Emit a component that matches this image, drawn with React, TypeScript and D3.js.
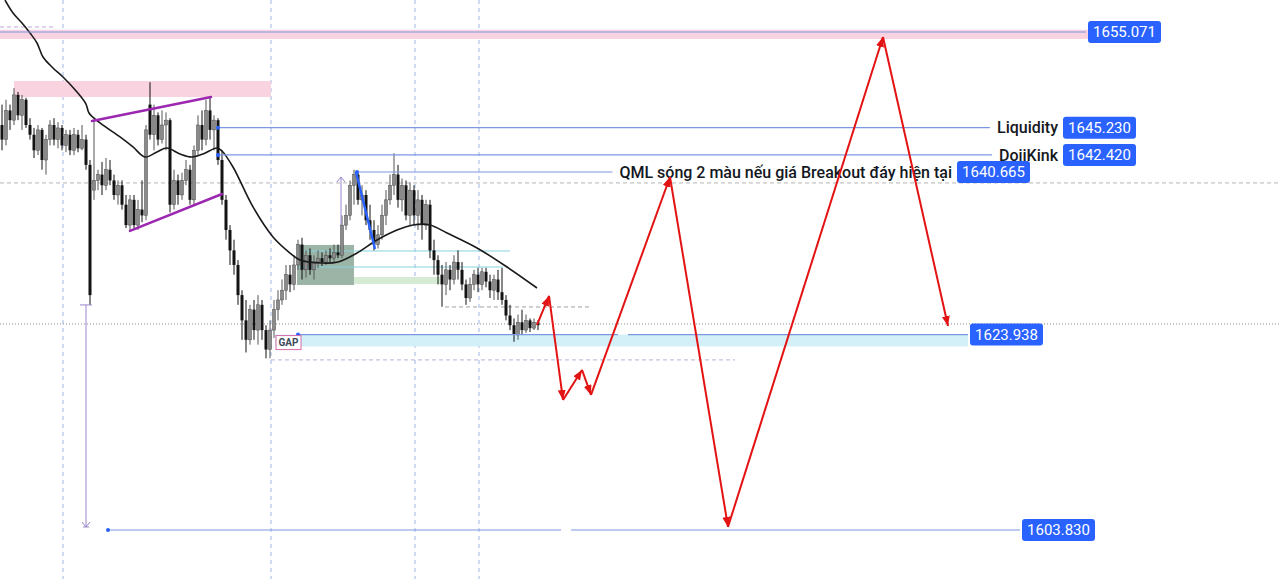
import React, { useEffect, useRef } from 'react';
import * as d3 from 'd3';

// candles: [open, high, low, close]
const candles: [number, number, number, number][] = [
  [1645.5, 1647.6, 1642.9, 1644.0], [1644.0, 1648.1, 1643.4, 1647.0], [1647.0, 1647.6, 1645.0, 1646.0],
  [1646.0, 1649.3, 1645.5, 1648.6], [1648.6, 1648.9, 1646.0, 1646.5], [1646.5, 1648.6, 1645.0, 1648.1],
  [1648.1, 1648.3, 1645.2, 1645.5], [1645.5, 1646.2, 1644.0, 1644.5], [1644.5, 1645.2, 1642.1, 1642.9],
  [1642.9, 1645.5, 1642.4, 1645.0], [1645.0, 1645.2, 1640.9, 1641.9], [1641.9, 1644.5, 1640.4, 1644.0],
  [1644.0, 1646.0, 1643.4, 1645.5], [1645.5, 1646.2, 1643.4, 1644.0], [1644.0, 1645.8, 1643.1, 1645.2],
  [1645.2, 1645.5, 1642.9, 1643.4], [1643.4, 1645.0, 1642.7, 1644.5], [1644.5, 1645.0, 1642.4, 1642.9],
  [1642.9, 1645.2, 1642.4, 1644.5], [1644.5, 1645.0, 1642.7, 1643.1], [1643.1, 1645.5, 1642.9, 1644.0],
  [1644.0, 1644.5, 1640.9, 1641.4], [1641.4, 1641.9, 1627.0, 1628.0], [1638.8, 1646.0, 1637.8, 1639.8],
  [1639.8, 1640.9, 1638.8, 1640.4], [1640.4, 1641.7, 1638.3, 1639.3], [1639.3, 1642.1, 1638.8, 1640.9],
  [1640.9, 1641.9, 1639.3, 1639.8], [1639.8, 1640.4, 1637.8, 1638.3], [1638.3, 1639.8, 1637.3, 1639.3],
  [1639.3, 1639.8, 1636.8, 1637.3], [1637.3, 1638.3, 1634.9, 1635.2], [1635.2, 1638.3, 1634.7, 1637.8],
  [1637.8, 1638.3, 1634.9, 1635.2], [1635.2, 1637.8, 1634.7, 1636.8], [1636.8, 1639.8, 1635.5, 1636.2],
  [1636.2, 1645.5, 1635.7, 1645.0], [1647.6, 1649.9, 1644.0, 1644.5], [1644.5, 1647.6, 1642.9, 1646.5],
  [1646.5, 1646.8, 1643.4, 1644.0], [1644.0, 1647.0, 1643.6, 1645.5], [1645.5, 1646.8, 1642.9, 1646.0],
  [1646.0, 1646.2, 1636.5, 1637.3], [1637.3, 1640.9, 1636.8, 1639.8], [1639.8, 1640.4, 1637.3, 1638.3],
  [1638.3, 1640.6, 1637.8, 1639.8], [1639.8, 1641.9, 1639.3, 1640.9], [1640.9, 1641.4, 1637.3, 1637.8],
  [1637.8, 1643.4, 1637.3, 1642.9], [1642.9, 1646.5, 1642.4, 1645.5], [1645.5, 1647.0, 1642.9, 1644.0],
  [1644.0, 1648.1, 1643.4, 1647.0], [1647.0, 1648.3, 1644.0, 1645.0], [1645.0, 1646.5, 1642.9, 1646.0],
  [1646.0, 1646.2, 1641.4, 1641.9], [1641.9, 1642.9, 1637.3, 1637.8], [1637.8, 1638.3, 1633.7, 1634.7],
  [1634.7, 1635.2, 1631.1, 1632.6], [1632.6, 1633.7, 1630.1, 1631.1], [1631.1, 1631.6, 1627.0, 1628.0],
  [1628.0, 1628.5, 1623.4, 1625.4], [1625.4, 1627.5, 1622.1, 1623.4], [1623.4, 1627.0, 1622.9, 1626.5],
  [1626.5, 1627.5, 1623.4, 1624.4], [1624.4, 1628.0, 1622.9, 1627.0], [1627.0, 1627.5, 1623.4, 1624.4],
  [1624.4, 1624.9, 1621.5, 1622.4], [1622.4, 1625.4, 1621.5, 1624.4], [1624.4, 1627.5, 1623.6, 1626.5],
  [1626.5, 1628.5, 1625.4, 1627.5], [1627.5, 1629.6, 1627.0, 1628.5], [1628.5, 1631.1, 1627.5, 1630.1],
  [1630.1, 1631.1, 1628.3, 1629.1], [1629.1, 1632.1, 1628.5, 1631.1], [1631.1, 1633.7, 1630.6, 1633.2],
  [1633.2, 1633.9, 1629.6, 1630.6], [1630.6, 1632.6, 1629.8, 1632.1], [1632.1, 1632.8, 1630.1, 1630.6],
  [1630.6, 1632.1, 1629.6, 1631.4], [1631.4, 1632.6, 1630.8, 1631.8], [1631.8, 1632.4, 1631.0, 1631.4],
  [1631.4, 1632.6, 1631.1, 1632.1], [1632.1, 1632.8, 1631.4, 1631.8], [1631.8, 1633.2, 1631.4, 1632.4],
  [1632.4, 1633.2, 1631.8, 1632.1], [1632.1, 1636.2, 1631.8, 1635.2], [1635.2, 1637.3, 1634.7, 1636.2],
  [1636.2, 1639.8, 1635.7, 1639.3], [1639.3, 1640.9, 1637.3, 1640.4], [1640.4, 1640.7, 1637.3, 1637.8],
  [1637.8, 1639.3, 1636.2, 1638.3], [1638.3, 1638.8, 1635.2, 1635.7], [1635.7, 1637.3, 1633.7, 1634.7],
  [1634.7, 1635.7, 1632.6, 1633.2], [1633.2, 1635.2, 1632.8, 1634.2], [1634.2, 1637.3, 1633.7, 1636.2],
  [1636.2, 1638.8, 1635.2, 1637.8], [1637.8, 1640.4, 1637.3, 1639.3], [1639.3, 1642.6, 1638.3, 1640.4],
  [1640.4, 1641.4, 1637.0, 1637.8], [1637.8, 1640.0, 1636.6, 1639.3], [1639.3, 1639.8, 1635.7, 1636.2],
  [1636.2, 1639.6, 1635.2, 1638.8], [1638.8, 1639.3, 1635.2, 1636.2], [1636.2, 1638.8, 1634.7, 1637.8],
  [1637.8, 1638.3, 1633.7, 1635.2], [1635.2, 1637.8, 1634.7, 1637.3], [1637.3, 1637.8, 1631.8, 1632.6],
  [1632.6, 1633.7, 1630.1, 1631.6], [1631.6, 1632.1, 1629.1, 1630.1], [1630.1, 1631.1, 1626.8, 1629.1],
  [1629.1, 1631.4, 1628.0, 1630.6], [1630.6, 1631.1, 1628.5, 1629.6], [1629.6, 1632.1, 1629.1, 1631.4],
  [1631.4, 1632.6, 1629.6, 1630.6], [1630.6, 1631.4, 1628.5, 1629.1], [1629.1, 1629.6, 1627.0, 1627.7],
  [1627.7, 1629.8, 1627.3, 1629.1], [1629.1, 1630.6, 1628.5, 1630.1], [1630.1, 1630.8, 1628.3, 1629.1],
  [1629.1, 1630.8, 1628.5, 1630.4], [1630.4, 1630.8, 1628.8, 1629.4], [1629.4, 1630.1, 1627.7, 1628.5],
  [1628.5, 1630.1, 1627.5, 1629.6], [1629.6, 1630.6, 1627.5, 1628.3], [1628.3, 1630.8, 1627.0, 1627.5],
  [1627.5, 1628.0, 1625.4, 1625.9], [1625.9, 1627.0, 1624.4, 1624.9], [1624.9, 1625.6, 1623.2, 1623.9],
  [1623.9, 1626.0, 1623.4, 1625.2], [1625.2, 1626.5, 1623.9, 1624.4], [1624.4, 1626.0, 1624.1, 1625.4],
  [1625.4, 1625.6, 1624.2, 1624.6], [1624.6, 1625.6, 1624.4, 1625.2], [1625.2, 1625.4, 1624.4, 1624.9],
];

// moving average, read at bar positions
const maBars = [1.25, 3.25, 5.5, 7.5, 9.25, 10.75, 13.25, 15.75, 19.25, 21.5, 22.25, 25, 30, 33.25, 36.25,
  39.25, 41.75, 45, 48, 50.75, 54.25, 55.5, 58.25, 63.25, 68.25, 72.5, 75, 80.5, 84.5, 89.25, 94.25, 99.25,
  103.25, 107.5, 111.75, 119.25, 126.75, 134.25];
const maValues = [1658.36, 1657.03, 1656.0, 1654.97, 1653.94, 1652.5, 1651.37, 1650.44, 1648.9, 1647.66,
  1646.74, 1645.71, 1644.27, 1643.24, 1642.21, 1642.73, 1643.14, 1642.52, 1642.21, 1642.52, 1643.14, 1642.83,
  1641.18, 1637.07, 1633.98, 1632.33, 1631.61, 1631.3, 1631.41, 1632.33, 1633.67, 1634.7, 1635.22, 1635.22,
  1634.39, 1632.85, 1630.89, 1628.73];

// projected red wave
const waveBars = [134.25, 137.25, 140.75, 145.5, 147.75, 167.5, 182, 220.75, 237];
const wavePrices = [1624.93, 1627.91, 1617.21, 1620.3, 1617.73, 1640.15, 1604.15, 1654.56, 1624.82];

// price levels
const levelPrices = [1655.071, 1645.23, 1642.42, 1640.665, 1623.938, 1603.83];
const levelNames = ['', 'Liquidity', 'DojiKink', 'QML sóng 2 màu nếu giá Breakout đáy hiện tại', '', ''];
const levelStartBars = [0, 54.5, 54.5, 89.25, 74.5, 27];
const levelLabelBars = [272, 265.75, 265.75, 239.25, 242.5, 255.5];
const levelGaps: ([number, number] | null)[] = [null, null, null, null, [154.5, 157], [140.25, 142.75]];

// vertical session lines (bars)
const sessionBars = [15.75, 67.75, 103.75, 119.75];

export default function App() {
  const ref = useRef<SVGSVGElement>(null);

  useEffect(() => {
    if (!ref.current) return;
    const W = 1280, H = 579;
    const svg = d3.select(ref.current);
    svg.selectAll('*').remove();

    const x = d3.scaleLinear().domain([0, 320]).range([0, W]);
    const y = d3.scaleLinear().domain([1603.83, 1655.071]).range([530, 32]);
    const font = 'Roboto, "Open Sans", sans-serif';

    const defs = svg.append('defs');
    defs.append('marker')
      .attr('id', 'redHead')
      .attr('markerUnits', 'userSpaceOnUse')
      .attr('markerWidth', 12).attr('markerHeight', 10)
      .attr('refX', 10).attr('refY', 4)
      .attr('orient', 'auto')
      .append('path').attr('d', 'M0,0 L10,4 L0,8 Z').attr('fill', '#e31313');

    svg.append('rect').attr('width', W).attr('height', H).attr('fill', '#ffffff');

    // session lines
    svg.selectAll('.sess').data(sessionBars).join('line')
      .attr('x1', d => x(d)).attr('x2', d => x(d))
      .attr('y1', 0).attr('y2', H)
      .attr('stroke', '#9fb3df').attr('stroke-width', 1).attr('stroke-dasharray', '4 4');

    // horizontal helpers
    svg.append('line').attr('x1', 0).attr('x2', W).attr('y1', y(1639.54)).attr('y2', y(1639.54))
      .attr('stroke', '#b4b4b4').attr('stroke-dasharray', '4 3');
    svg.append('line').attr('x1', 0).attr('x2', W).attr('y1', y(1625.03)).attr('y2', y(1625.03))
      .attr('stroke', '#8a8a8a').attr('stroke-dasharray', '1 2');
    svg.append('line').attr('x1', x(0)).attr('x2', x(13.75)).attr('y1', y(1655.59)).attr('y2', y(1655.59))
      .attr('stroke', '#b6acd9').attr('stroke-dasharray', '4 3');

    // top band
    svg.append('rect').attr('x', 0).attr('width', x(levelLabelBars[0]))
      .attr('y', y(1655.3)).attr('height', y(1654.35) - y(1655.3)).attr('fill', '#f9d3e0');
    // supply zone top left
    svg.append('rect').attr('x', x(3.5)).attr('width', x(67.75) - x(3.5))
      .attr('y', y(1650.03)).attr('height', y(1648.38) - y(1650.03)).attr('fill', '#f9d3e0');

    // GAP band
    svg.append('rect').attr('x', x(68.75)).attr('width', x(242) - x(68.75))
      .attr('y', y(1623.938)).attr('height', y(1622.72) - y(1623.938)).attr('fill', '#d3f0f8');

    // grey-green box and strip
    svg.append('rect').attr('x', x(74.25)).attr('width', x(88.5) - x(74.25))
      .attr('y', y(1633.16)).attr('height', y(1629.04) - y(1633.16)).attr('fill', '#8ba797').attr('opacity', 0.85);
    svg.append('rect').attr('x', x(88.5)).attr('width', x(110) - x(88.5))
      .attr('y', y(1629.86)).attr('height', y(1629.14) - y(1629.86)).attr('fill', '#d5ebd3');

    // cyan lines
    const cyan: [number, number, number][] = [[74.25, 127.5, 1632.54], [74.25, 125.75, 1630.89]];
    cyan.forEach(([a, b, p]) => {
      svg.append('line').attr('x1', x(a)).attr('x2', x(b)).attr('y1', y(p)).attr('y2', y(p))
        .attr('stroke', '#86d3de').attr('stroke-width', 1);
    });

    // dashed lows
    svg.append('line').attr('x1', x(111.25)).attr('x2', x(147.25)).attr('y1', y(1626.78)).attr('y2', y(1626.78))
      .attr('stroke', '#a0a0a0').attr('stroke-dasharray', '4 3');
    svg.append('line').attr('x1', x(67.75)).attr('x2', x(183.75)).attr('y1', y(1621.33)).attr('y2', y(1621.33))
      .attr('stroke', '#b8b0dc').attr('stroke-dasharray', '4 3');

    // candles
    const g = svg.append('g');
    candles.forEach(([o, h, l, c], i) => {
      const cx = x(i + 0.5);
      const up = c >= o;
      g.append('line').attr('x1', cx).attr('x2', cx).attr('y1', y(h)).attr('y2', y(l))
        .attr('stroke', up ? '#555555' : '#111111').attr('stroke-width', 1);
      const top = y(Math.max(o, c)), bot = y(Math.min(o, c));
      g.append('rect').attr('x', cx - 1.5).attr('width', 3)
        .attr('y', top).attr('height', Math.max(1, bot - top))
        .attr('fill', up ? '#8a8a8a' : '#131313')
        .attr('stroke', up ? '#4a4a4a' : 'none').attr('stroke-width', 0.5);
    });

    // moving average
    const maLine = d3.line<number>()
      .x((_, i) => x(maBars[i])).y(d => y(d))
      .curve(d3.curveCatmullRom.alpha(0.5));
    svg.append('path').attr('d', maLine(maValues)!)
      .attr('fill', 'none').attr('stroke', '#1a1a1a').attr('stroke-width', 1.6);

    // triangle
    const purple: [number, number, number, number][] = [[23, 1645.91, 52.75, 1648.38], [32.5, 1634.6, 55.5, 1638.4]];
    purple.forEach(([b1, p1, b2, p2]) => {
      svg.append('line').attr('x1', x(b1)).attr('y1', y(p1)).attr('x2', x(b2)).attr('y2', y(p2))
        .attr('stroke', '#9c27b0').attr('stroke-width', 2.5).attr('stroke-linecap', 'round');
    });

    // measurement lines
    const mx = x(21.5);
    svg.append('line').attr('x1', mx).attr('x2', mx).attr('y1', y(1626.99)).attr('y2', y(1604.14))
      .attr('stroke', '#9b86cc').attr('stroke-width', 1);
    svg.append('line').attr('x1', mx - 6).attr('x2', mx + 6).attr('y1', y(1626.99)).attr('y2', y(1626.99))
      .attr('stroke', '#9b86cc').attr('stroke-width', 1);
    svg.append('path').attr('d', `M${mx - 4},${y(1604.14) - 5} L${mx},${y(1604.14)} L${mx + 4},${y(1604.14) - 5}`)
      .attr('fill', 'none').attr('stroke', '#9b86cc');
    svg.append('line').attr('x1', mx - 3).attr('x2', mx + 3).attr('y1', y(1604.14)).attr('y2', y(1604.14))
      .attr('stroke', '#9b86cc');
    const ax = x(85.25);
    svg.append('line').attr('x1', ax).attr('x2', ax).attr('y1', y(1635.21)).attr('y2', y(1640.15))
      .attr('stroke', '#9b86cc').attr('stroke-width', 1);
    svg.append('path').attr('d', `M${ax - 4},${y(1640.15) + 5} L${ax},${y(1640.15)} L${ax + 4},${y(1640.15) + 5}`)
      .attr('fill', 'none').attr('stroke', '#9b86cc');

    // level lines + labels
    levelPrices.forEach((p, i) => {
      const py = y(p);
      const boxX = x(levelLabelBars[i]);
      let lineEnd = boxX - 2;
      if (levelNames[i]) {
        const t = svg.append('text').attr('x', boxX - 5).attr('y', py).attr('dy', '0.36em')
          .attr('text-anchor', 'end').attr('font-family', font).attr('font-size', 16)
          .attr('font-weight', 500).attr('fill', '#131722').text(levelNames[i]);
        const w = (t.node() as SVGTextElement).getComputedTextLength();
        lineEnd = boxX - 5 - w - 7;
      }
      const start = x(levelStartBars[i]);
      const gap = levelGaps[i];
      const segs: [number, number][] = gap ? [[start, x(gap[0])], [x(gap[1]), lineEnd]] : [[start, lineEnd]];
      segs.forEach(([a, b]) => {
        svg.append('line').attr('x1', a).attr('x2', b).attr('y1', py).attr('y2', py)
          .attr('stroke', '#7b98e0').attr('stroke-width', 1.2);
      });
      if (i > 0) {
        svg.append('circle').attr('cx', start).attr('cy', py).attr('r', 2).attr('fill', '#2962ff');
      }
      svg.append('rect').attr('x', boxX).attr('y', py - 11).attr('width', 73).attr('height', 22)
        .attr('rx', 3).attr('fill', '#2962ff');
      svg.append('text').attr('x', boxX + 36.5).attr('y', py).attr('dy', '0.36em')
        .attr('text-anchor', 'middle').attr('font-family', font).attr('font-size', 15)
        .attr('fill', '#ffffff').text(p.toFixed(3));
    });

    // blue swing leg
    svg.append('line').attr('x1', x(89)).attr('y1', y(1640.665)).attr('x2', x(93.75)).attr('y2', y(1632.74))
      .attr('stroke', '#2962ff').attr('stroke-width', 2.5);

    // GAP label
    const gx = x(69), gy = y(1623.938) + 1;
    svg.append('rect').attr('x', gx).attr('y', gy).attr('width', 25).attr('height', 14)
      .attr('fill', '#ffffff').attr('stroke', '#d46aa6').attr('stroke-width', 1);
    svg.append('text').attr('x', gx + 12.5).attr('y', gy + 7).attr('dy', '0.36em')
      .attr('text-anchor', 'middle').attr('font-family', font).attr('font-size', 10)
      .attr('font-weight', 700).attr('fill', '#3c4a5a').text('GAP');

    // red wave with arrow heads
    for (let i = 1; i < waveBars.length; i++) {
      svg.append('line')
        .attr('x1', x(waveBars[i - 1])).attr('y1', y(wavePrices[i - 1]))
        .attr('x2', x(waveBars[i])).attr('y2', y(wavePrices[i]))
        .attr('stroke', '#e31313').attr('stroke-width', 2)
        .attr('marker-end', 'url(#redHead)');
    }
  }, []);

  return (
    <div style={{ position: 'fixed', left: 0, top: 0 }}>
      <svg ref={ref} width={1280} height={579} style={{ display: 'block' }}></svg>
    </div>
  );
}
